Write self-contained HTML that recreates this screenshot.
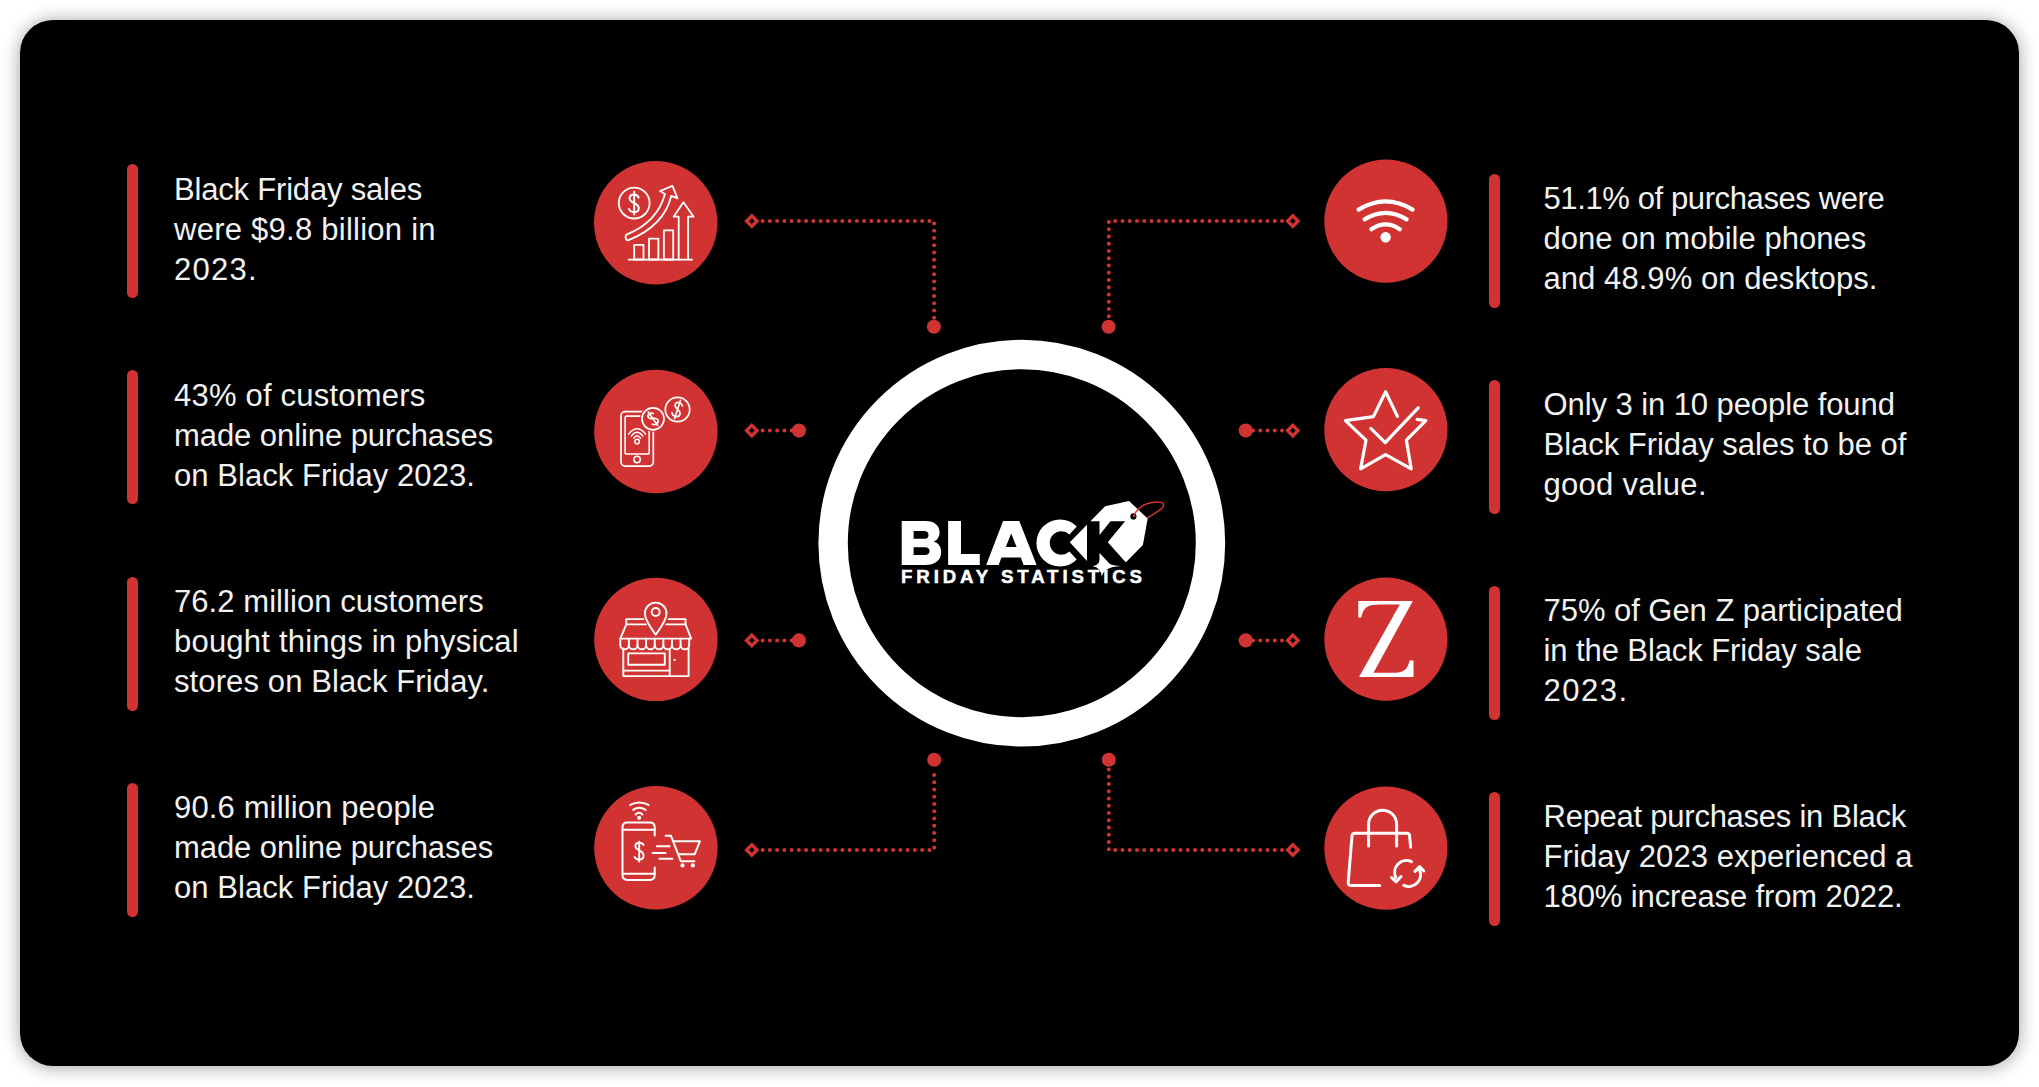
<!DOCTYPE html>
<html>
<head>
<meta charset="utf-8">
<style>
html,body{margin:0;padding:0;background:#fff;width:2039px;height:1087px;overflow:hidden;}
body{position:relative;font-family:"Liberation Sans",sans-serif;}
.card{position:absolute;left:20px;top:20px;width:1999px;height:1046px;background:#000;border-radius:33px;box-shadow:0 1px 18px rgba(0,0,0,0.38);}
.t{position:absolute;color:#f2f2f2;font-size:31px;line-height:40px;white-space:nowrap;}
.bar{position:absolute;width:11px;height:134px;border-radius:6px;background:#d13333;}
svg{position:absolute;left:0;top:0;}
</style>
</head>
<body>
<div class="card"></div>

<!-- left bars -->
<div class="bar" style="left:127px;top:164px"></div>
<div class="bar" style="left:127px;top:370px"></div>
<div class="bar" style="left:127px;top:576.5px"></div>
<div class="bar" style="left:127px;top:782.5px"></div>
<!-- right bars -->
<div class="bar" style="left:1489px;top:173.5px"></div>
<div class="bar" style="left:1489px;top:379.5px"></div>
<div class="bar" style="left:1489px;top:585.5px"></div>
<div class="bar" style="left:1489px;top:792px"></div>

<!-- left texts -->
<div class="t" style="left:174px;top:169.6px"><span style="display:block;letter-spacing:-0.19px">Black Friday sales</span><span style="display:block;letter-spacing:0.25px">were $9.8 billion in</span><span style="display:block;letter-spacing:1.25px">2023.</span></div>
<div class="t" style="left:174px;top:375.75px"><span style="display:block;letter-spacing:0.21px">43% of customers</span><span style="display:block;letter-spacing:-0.07px">made online purchases</span><span style="display:block;letter-spacing:0.05px">on Black Friday 2023.</span></div>
<div class="t" style="left:174px;top:582.15px"><span style="display:block;letter-spacing:0.06px">76.2 million customers</span><span style="display:block;letter-spacing:0.21px">bought things in physical</span><span style="display:block;letter-spacing:0.11px">stores on Black Friday.</span></div>
<div class="t" style="left:174px;top:788.05px"><span style="display:block;letter-spacing:0.14px">90.6 million people</span><span style="display:block;letter-spacing:-0.07px">made online purchases</span><span style="display:block;letter-spacing:0.05px">on Black Friday 2023.</span></div>
<!-- right texts -->
<div class="t" style="left:1543.5px;top:178.65px"><span style="display:block;letter-spacing:-0.39px">51.1% of purchases were</span><span style="display:block;letter-spacing:0.02px">done on mobile phones</span><span style="display:block;letter-spacing:0.06px">and 48.9% on desktops.</span></div>
<div class="t" style="left:1543.5px;top:384.75px"><span style="display:block;letter-spacing:-0.08px">Only 3 in 10 people found</span><span style="display:block;letter-spacing:-0.03px">Black Friday sales to be of</span><span style="display:block;letter-spacing:0.27px">good value.</span></div>
<div class="t" style="left:1543.5px;top:590.85px"><span style="display:block;letter-spacing:-0.04px">75% of Gen Z participated</span><span style="display:block;letter-spacing:-0.09px">in the Black Friday sale</span><span style="display:block;letter-spacing:1.5px">2023.</span></div>
<div class="t" style="left:1543.5px;top:796.95px"><span style="display:block;letter-spacing:-0.25px">Repeat purchases in Black</span><span style="display:block;letter-spacing:0.08px">Friday 2023 experienced a</span><span style="display:block;letter-spacing:-0.12px">180% increase from 2022.</span></div>

<svg width="2039" height="1087" viewBox="0 0 2039 1087">
<g id="connectors" fill="none" stroke="#d13333" stroke-linecap="round">
  <g stroke-width="4" stroke-dasharray="0 7.25">
    <path d="M762.6 221.1 H934.1 V318"/>
    <path d="M1282 221.1 H1108.8 V318"/>
    <path d="M762.6 850 H934.2 V768"/>
    <path d="M1282 850 H1108.8 V768"/>
    <path d="M762.6 430.6 H792"/>
    <path d="M1282 430.6 H1252.5"/>
    <path d="M762.6 640.4 H792"/>
    <path d="M1282 640.4 H1252.5"/>
  </g>
  <g stroke-width="3.4" stroke-linejoin="miter">
    <path d="M751.8 215.9 L757 221.1 L751.8 226.3 L746.6 221.1 Z"/>
    <path d="M751.8 425.4 L757 430.6 L751.8 435.8 L746.6 430.6 Z"/>
    <path d="M751.8 635.2 L757 640.4 L751.8 645.6 L746.6 640.4 Z"/>
    <path d="M751.8 844.8 L757 850 L751.8 855.2 L746.6 850 Z"/>
    <path d="M1292.8 215.9 L1298 221.1 L1292.8 226.3 L1287.6 221.1 Z"/>
    <path d="M1292.8 425.4 L1298 430.6 L1292.8 435.8 L1287.6 430.6 Z"/>
    <path d="M1292.8 635.2 L1298 640.4 L1292.8 645.6 L1287.6 640.4 Z"/>
    <path d="M1292.8 844.8 L1298 850 L1292.8 855.2 L1287.6 850 Z"/>
  </g>
</g>
<g fill="#d13333">
  <circle cx="933.9" cy="326.7" r="7"/>
  <circle cx="1108.6" cy="326.7" r="7"/>
  <circle cx="934.2" cy="759.7" r="7"/>
  <circle cx="1108.8" cy="759.7" r="7"/>
  <circle cx="798.9" cy="430.6" r="7.1"/>
  <circle cx="798.9" cy="640.4" r="7.1"/>
  <circle cx="1245.7" cy="430.6" r="7.1"/>
  <circle cx="1245.7" cy="640.4" r="7.1"/>
  <circle cx="655.7" cy="222.8" r="61.7"/>
  <circle cx="655.9" cy="431.5" r="61.7"/>
  <circle cx="655.9" cy="639.4" r="61.7"/>
  <circle cx="655.9" cy="847.8" r="61.7"/>
  <circle cx="1385.9" cy="221.1" r="61.6"/>
  <circle cx="1385.9" cy="429.7" r="61.6"/>
  <circle cx="1385.9" cy="639.2" r="61.6"/>
  <circle cx="1385.9" cy="848.1" r="61.6"/>
</g>
<circle cx="1021.8" cy="543.2" r="188.7" fill="none" stroke="#fff" stroke-width="29.4"/>

<!--ICONS-->
<g id="icons" fill="none" stroke="#fff" stroke-linecap="round" stroke-linejoin="round">
  <!-- Icon L1: growth chart -->
  <g stroke-width="1.8">
    <circle cx="634.2" cy="203.1" r="15.4"/>
    <path d="M638.6 197.6 C637.8 195.4 636 194.6 634 194.6 C631.2 194.6 629.6 196.4 629.6 198.6 C629.6 203.6 638.8 202.4 638.8 208 C638.8 210.6 636.8 212.2 634 212.2 C631.6 212.2 629.8 211 629 209 M634.2 191.8 V214.6" stroke-width="2"/>
    <path d="M665 194.1 L660 191 L672.5 185.9 L677.5 198.4 L671.3 195.8 C667 214 655 229.5 628.6 240.2 C625.4 241 624.6 235.4 627 234.4 C648 226 660 212 665 194.1 Z"/>
    <rect x="634.2" y="244.9" width="9.3" height="14.6"/>
    <rect x="649" y="238.6" width="9.4" height="20.9"/>
    <rect x="663.9" y="230.4" width="9.3" height="29.1"/>
    <path d="M628.7 259.6 H692"/>
    <path d="M678.7 259.6 V216.7 H673.6 L683.4 202.3 L693.6 216.7 H688.1 V259.6"/>
  </g>
  <!-- Icon L2: phone + coins -->
  <g stroke-width="1.7">
    <rect x="621" y="411.7" width="32.3" height="54.4" rx="4"/>
    <rect x="625.1" y="416.1" width="24.1" height="37.9" rx="1.8" stroke-width="1.6"/>
    <circle cx="637.1" cy="459.5" r="3.2" stroke-width="1.6"/>
    <circle cx="637.1" cy="441.6" r="2.3" stroke-width="1.5"/>
    <path d="M628.6 434.1 Q637.1 423.6 645.6 434.1" stroke-width="1.5"/>
    <path d="M631.3 436.1 Q637.1 428.6 642.9 436.1" stroke-width="1.5"/>
    <path d="M633.7 438.2 Q637.1 433.4 640.5 438.2" stroke-width="1.5"/>
    <circle cx="653" cy="418.8" r="11" fill="#d13333" stroke="#d13333" stroke-width="4"/>
    <circle cx="653" cy="418.8" r="11"/>
    <g transform="rotate(-35 653 418.8)">
      <path d="M656.2 414.6 C655.4 413 654.2 412.6 653 412.6 C651 412.6 650 413.8 650 415.2 C650 418.8 656.4 418 656.4 422 C656.4 423.8 655 425 653 425 C651.2 425 650 424.2 649.4 422.8 M653 410.6 V427" stroke-width="1.7"/>
    </g>
    <circle cx="677.5" cy="409.5" r="12.2"/>
    <g transform="rotate(18 677.5 409.5)">
      <path d="M681.1 404.6 C680.1 402.8 678.7 402.4 677.3 402.4 C674.9 402.4 673.7 403.8 673.7 405.4 C673.7 409.6 681.3 408.6 681.3 413.4 C681.3 415.4 679.7 416.8 677.3 416.8 C675.3 416.8 673.9 415.8 673.3 414.2 M677.5 400 V419" stroke-width="1.7"/>
    </g>
  </g>
  <!-- Icon L3: store with pin -->
  <g stroke-width="1.9">
    <path d="M643.3 619.1 H626.3 V624.4 H645.9"/>
    <path d="M668.6 619.1 H685.5 V624.4 H666.3"/>
    <path d="M626.3 624.4 L620.3 638.6 H691.2 L685.5 624.4"/>
    <path d="M620.3 644.9 a4.306 4.4 0 0 0 8.6125 0 a4.306 4.4 0 0 0 8.6125 0 a4.306 4.4 0 0 0 8.6125 0 a4.306 4.4 0 0 0 8.6125 0 a4.306 4.4 0 0 0 8.6125 0 a4.306 4.4 0 0 0 8.6125 0 a4.306 4.4 0 0 0 8.6125 0 a4.306 4.4 0 0 0 8.6125 0 "/>
    <path d="M620.30 638.6 V644.9 M628.91 638.6 V644.9 M637.52 638.6 V644.9 M646.14 638.6 V644.9 M654.75 638.6 V644.9 M663.36 638.6 V644.9 M671.97 638.6 V644.9 M680.59 638.6 V644.9 M689.20 638.6 V644.9"/>
    <path d="M623.3 648.5 V676.1 H688.6 V648.5"/>
    <rect x="628.2" y="653.4" width="36.6" height="11.4"/>
    <path d="M623.3 670.6 H669.7"/>
    <path d="M669.7 649 V676.1"/>
    <circle cx="674.6" cy="659.9" r="1.1" fill="#fff" stroke="none"/>
    <path d="M655.7 634.8 C651 627.6 644.9 620.5 644.9 613.4 A10.8 10.8 0 0 1 666.5 613.4 C666.5 620.5 660.4 627.6 655.7 634.8 Z" fill="#d13333"/>
    <circle cx="655.7" cy="612" r="4"/>
  </g>
  <!-- Icon L4: phone + cart -->
  <g stroke-width="2">
    <path d="M654.7 835.6 V827.2 Q654.7 822.4 649.9 822.4 H627.3 Q622.5 822.4 622.5 827.2 V875.1 Q622.5 879.9 627.3 879.9 H649.9 Q654.7 879.9 654.7 875.1 V867.4"/>
    <path d="M622.5 829.8 H654.7 M622.5 873.7 H654.7"/>
    <path d="M643.6 845 C642.8 843.4 641.4 842.8 639.4 842.8 C637 842.8 635.4 844.2 635.4 846.2 C635.4 851 643.6 849.6 643.6 855.6 C643.6 858 641.8 859.6 639.2 859.6 C637 859.6 635.4 858.6 634.6 857 M639.2 841.6 V861.6" stroke-width="1.9"/>
    <path d="M656.8 846.2 H669.6 M652.6 853 H665.6 M659.4 858.8 H672.4"/>
    <path d="M665.6 835.8 H671 L680.8 861.2 H694.4"/>
    <path d="M673.8 841.2 H700 L694.6 854.3 H678.8"/>
    <circle cx="682.5" cy="865.4" r="2.1" fill="#fff" stroke="none"/>
    <circle cx="692.8" cy="865.4" r="2.1" fill="#fff" stroke="none"/>
    <circle cx="639.1" cy="817.8" r="1" fill="#fff"/>
    <path d="M630.3 804.9 Q639 800.1 648.5 804.9" stroke-width="2.1"/>
    <path d="M633.2 809.9 Q639 805.7 645.6 809.9" stroke-width="2.1"/>
    <path d="M635.7 814.5 Q639 811.1 642.3 814.5" stroke-width="2.1"/>
  </g>
  <!-- Icon R1: wifi -->
  <g stroke-width="4.2">
    <path d="M1358.6 209.6 Q1385.6 193.2 1412.6 209.6"/>
    <path d="M1364.6 219.4 Q1385.6 206.2 1406.6 219.4"/>
    <path d="M1371.4 229.3 Q1385.6 219.6 1399.8 229.3"/>
  </g>
  <circle cx="1385.6" cy="237.2" r="5.2" fill="#fff" stroke="none"/>
  <!-- Icon R2: star check -->
  <g stroke-width="3.2" stroke-linejoin="round">
    <path d="M1397.4 416.4 L1385.6 391.8 L1373.4 416.6 L1345.4 420.7 L1366 440.2 L1360.6 468.8 L1385.6 454.6 L1411.2 468.8 L1406.4 440.2 L1425.8 420.7 L1417.2 419.4"/>
    <path d="M1370.8 428.4 L1385.2 442.6 L1418.2 407.8"/>
  </g>
  <!-- Icon R4: bag refresh -->
  <g stroke-width="3">
    <path d="M1410.6 847.2 L1409.6 836 Q1409.4 833.2 1406.6 833.2 H1355 Q1352.2 833.2 1352 836 L1348.2 882.4 Q1348 885.4 1351 885.4 H1379.6"/>
    <path d="M1368.6 846 V824.2 A14 14 0 0 1 1396.6 824.2 V846"/>
    <path d="M1411.4 861.6 A11.8 11.8 0 0 0 1395.8 877.4" stroke-width="3"/>
    <path d="M1391.6 877.6 L1396.2 881.8 L1401 876.6" stroke-width="3"/>
    <path d="M1403.8 885.4 A11.8 11.8 0 0 0 1419.4 869.6" stroke-width="3"/>
    <path d="M1415 871.4 L1419.6 866.6 L1423.8 871" stroke-width="3"/>
  </g>
</g>
<path d="M1358.3 601 H1412.8 L1373.5 672.8 H1393 C1403 672.8 1407.5 670 1409.6 660.4 H1413.5 V676.9 H1359 L1399.7 604.5 H1380 C1368 604.5 1363.5 607 1361.2 617.6 H1358.3 Z" fill="#fff"/>

<!--ICONSEND-->
<!--LOGO-->
<g id="logo">
  <!-- B -->
  <path fill="#fff" fill-rule="evenodd" d="M901.7 521 H925.5 C934.5 521 939.6 525.6 939.6 532.4 C939.6 536.6 937.4 540 933.6 541.6 C938.6 543 941.2 547 941.2 552.2 C941.2 560 935.2 565 925.2 565 H901.7 Z M913.6 531 V538.8 H924 C927 538.8 928.5 537.4 928.5 534.9 C928.5 532.4 927 531 924 531 Z M913.6 547.2 V555 H925 C928 555 929.6 553.5 929.6 551.1 C929.6 548.7 928 547.2 925 547.2 Z"/>
  <!-- L -->
  <path fill="#fff" d="M948.1 521 H961 V554 H979.8 V565 H948.1 Z"/>
  <!-- A -->
  <path fill="#fff" fill-rule="evenodd" d="M1003.1 521 H1019.3 L1036.6 565 H1023.6 L1020.8 557.6 H1001.4 L998.7 565 H986.2 Z M1005.8 547 L1011.2 533.6 L1016.6 547 Z"/>
  <!-- C -->
  <path fill="#fff" d="M1076.8 526.4 A23.6 23.6 0 1 0 1076.8 559.6 L1069.4 551.6 A11.7 11.7 0 1 1 1069.4 534.4 Z"/>
  <!-- tag -->
  <path fill="#fff" d="M1069.8 542.2 L1105.2 506.2 L1129 501.1 L1147.7 518.4 L1142.9 545 L1125.7 562.4 L1112 566.2 L1100 566.2 L1087 561 Z"/>
  <!-- K cut -->
  <path fill="#000" d="M1087 521.3 H1099.5 V534.9 L1110.5 521.3 H1125.1 L1107.8 542.3 L1126.6 563.2 L1112.2 566.4 L1099.5 552.9 V568 H1087 Z"/>
  <!-- sparkle -->
  <path fill="#fff" d="M1092.6 566.3 Q1100.6 565.8 1100.8 553.5 Q1102 565.6 1121 566.1 Q1103 567.2 1101.9 577 Q1100.8 567.4 1092.6 566.3 Z"/>
  <!-- hole and string -->
  <circle cx="1133.4" cy="516.4" r="3.1" fill="#000"/>
  <path d="M1134 515.8 C1136 510 1142 504.5 1152 502.5 C1160 501 1164.2 502.6 1163.6 505.6 C1163 509 1156 512.6 1147.8 517.6" fill="none" stroke="#d13333" stroke-width="1.5" stroke-linecap="round"/>
  <circle cx="1134" cy="515.8" r="1.1" fill="#d13333"/>
  <!-- FRIDAY STATISTICS -->
  <text x="901" y="583" fill="#fff" stroke="#fff" stroke-width="0.5" font-family="Liberation Sans" font-weight="bold" font-size="18.6" textLength="241" lengthAdjust="spacing">FRIDAY STATISTICS</text>
</g>

<!--LOGOEND-->
</svg>
</body>
</html>
